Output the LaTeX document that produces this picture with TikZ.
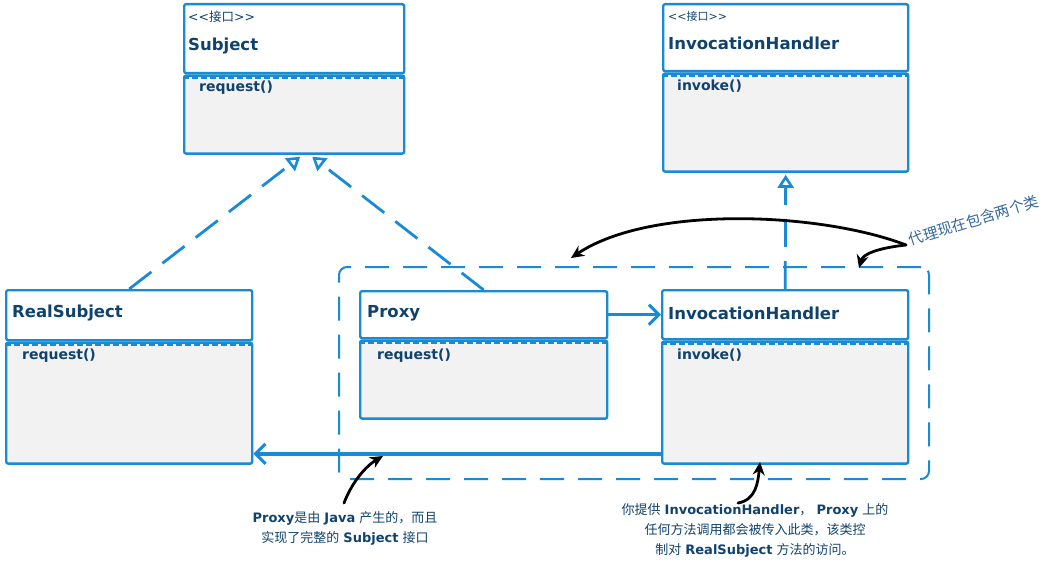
\documentclass[tikz,border=0pt]{standalone}
\usepackage{fontspec}
\setmainfont{DejaVu Sans}
\newfontfamily\cjk{Noto Sans CJK SC}
\usepackage{tikz}
\usetikzlibrary{positioning}
\usetikzlibrary{arrows.meta}
\usepackage{xcolor}
\definecolor{umlblue}{RGB}{24,138,214}
\definecolor{umltext}{RGB}{16,66,110}
\definecolor{umlfill}{RGB}{242,242,242}
\definecolor{tagblue}{RGB}{52,104,156}

\begin{document}
\begin{tikzpicture}[x=1pt, y=-1pt,
        every node/.style={inner sep=0pt, text=umltext},
        head/.style={draw=umlblue, line width=2.4pt, fill=white, anchor=north west, rounded corners=2pt},
        body/.style={draw=umlblue, line width=2.4pt, fill=umlfill, anchor=north west, rounded corners=2pt},
        divline/.style={draw=umlblue, line width=3pt, dash pattern=on 6pt off 3pt},
        stereo/.style={anchor=west, font=\fontsize{12.5}{14}\selectfont},
        cname/.style={anchor=west, font=\fontsize{16.5}{19}\selectfont\bfseries},
        meth/.style={anchor=west, font=\fontsize{14}{17}\selectfont\bfseries},
        impl/.style={draw=umlblue, line width=2.8pt, dash pattern=on 28pt off 14pt, -{Triangle[open, length=13pt, width=16pt, line width=2.6pt]}},
        assoc/.style={draw=umlblue, line width=3.4pt, -{Straight Barb[length=10pt, width=20pt, line width=3pt]}},
        callout/.style={draw=black, line width=2.8pt, line cap=round, -{Stealth[length=13pt, width=12pt]}},
        note/.style={align=center, font=\fontsize{13}{20}\selectfont}]
    \useasboundingbox (0,0) rectangle (1062,569);

    % group around proxy
    \node[draw=umlblue, line width=2pt, dash pattern=on 24pt off 14pt, rounded corners=8pt,
          anchor=north west, minimum width=590, minimum height=212] (grp) at (338,266) {};

    % Subject
    \node[head, minimum width=220, minimum height=69] (subjH) at (183,3) {};
    \node[body, minimum width=220, minimum height=78] (subjB) at (subjH.south west) {};
    \draw[divline] ([yshift=-3.5pt]subjB.north west) -- ([yshift=-3.5pt]subjB.north east);
    \node[stereo] (subjS) at (188,17) {{<}{<}{\cjk 接口}{>}{>}};
    \node[cname] (subjN) at (188,46) {Subject};
    \node[meth] (subjM) at (199,88) {request()};

    % InvocationHandler interface
    \node[head, minimum width=245, minimum height=67] (ifH) at (662,3) {};
    \node[body, minimum width=245, minimum height=98] (ifB) at (ifH.south west) {};
    \draw[divline] ([yshift=-3.5pt]ifB.north west) -- ([yshift=-3.5pt]ifB.north east);
    \node[stereo, font=\fontsize{11}{12}\selectfont] (ifS) at (668,16) {{<}{<}{\cjk 接口}{>}{>}};
    \node[cname] (ifN) at (668,43) {InvocationHandler};
    \node[meth] (ifM) at (677,86) {invoke()};

    % RealSubject
    \node[head, minimum width=246, minimum height=50] (rsH) at (5,289) {};
    \node[body, minimum width=246, minimum height=121] (rsB) at (rsH.south west) {};
    \draw[divline] ([yshift=-3.5pt]rsB.north west) -- ([yshift=-3.5pt]rsB.north east);
    \node[cname] (rsN) at (12,313) {RealSubject};
    \node[meth] (rsM) at (22,356) {request()};

    % Proxy
    \node[head, minimum width=247, minimum height=47] (prH) at (359,290) {};
    \node[body, minimum width=247, minimum height=78] (prB) at (prH.south west) {};
    \draw[divline] ([yshift=-3.5pt]prB.north west) -- ([yshift=-3.5pt]prB.north east);
    \node[cname] (prN) at (367,313) {Proxy};
    \node[meth] (prM) at (377,356) {request()};

    % InvocationHandler
    \node[head, minimum width=246, minimum height=49] (ihH) at (661,289) {};
    \node[body, minimum width=246, minimum height=122] (ihB) at (ihH.south west) {};
    \draw[divline] ([yshift=-3.5pt]ihB.north west) -- ([yshift=-3.5pt]ihB.north east);
    \node[cname] (ihN) at (668,313) {InvocationHandler};
    \node[meth] (ihM) at (677,355) {invoke()};

    % relations
    \draw[impl] (rsH.north) -- ([xshift=6pt,yshift=-2pt]subjB.south);
    \draw[impl] (prH.north) -- ([xshift=18pt,yshift=-2pt]subjB.south);
    \draw[impl] (ihH.north) -- ([yshift=-2pt]ifB.south);
    \draw[assoc] (prH.east) -- (ihH.west);
    \draw[assoc] ([yshift=11pt]ihB.south west) -- ([yshift=11pt]rsB.south east);

    % notes
    \node[anchor=south west, rotate=17, text=tagblue, font=\fontsize{15}{18}\selectfont\cjk] (tag) at (911,247) {代理现在包含两个类};
    \node[note] (note1) at (345,528) {{\bfseries Proxy}{\cjk 是由} {\bfseries Java} {\cjk 产生的，而且}\\
        {\cjk 实现了完整的} {\bfseries Subject} {\cjk 接口}};
    \node[note] (note2) at (755,530) {{\cjk 你提供} {\bfseries InvocationHandler}{\cjk ，} {\bfseries Proxy} {\cjk 上的}\\
        {\cjk 任何方法调用都会被传入此类，该类控}\\
        {\cjk 制对} {\bfseries RealSubject} {\cjk 方法的访问。}};

    \coordinate (tagStart) at (906,245);
    \coordinate (grpLeft) at (571,258);
    \coordinate (grpRight) at (859,268);
    \coordinate (n1Start) at (344,503);
    \coordinate (n1End) at (383,456);
    \coordinate (n2Start) at (738,503);
    \coordinate (n2End) at (760,462);

    \draw[callout] (tagStart) .. controls (820,212) and (650,205) .. (grpLeft);
    \draw[callout] (tagStart) .. controls (878,248) and (863,254) .. (grpRight);
    \draw[callout] (n1Start) .. controls (352,482) and (366,466) .. (n1End);
    \draw[callout] (n2Start) .. controls (756,500) and (758,482) .. (n2End);
\end{tikzpicture}
\end{document}
